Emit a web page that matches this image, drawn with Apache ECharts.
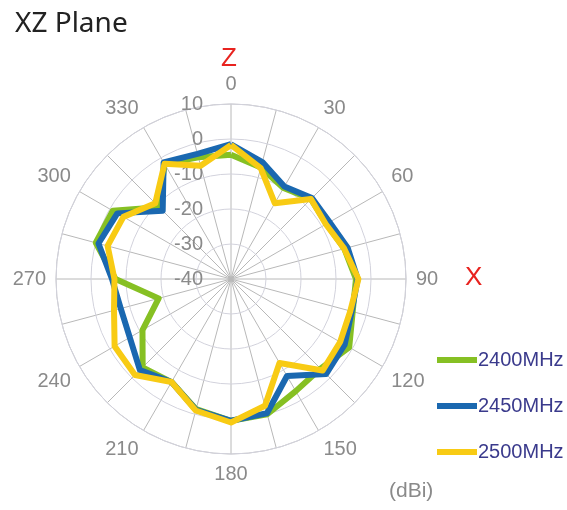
<!DOCTYPE html>
<html>
<head>
<meta charset="utf-8">
<title>XZ Plane</title>
<script src="https://cdn.jsdelivr.net/npm/echarts@6/dist/echarts.min.js"></script>
<style>
  html, body { margin: 0; padding: 0; background: #fff; }
  #chart { width: 567px; height: 510px; }
</style>
</head>
<body>
<div id="chart"></div>
<script>
// angles (deg), 15 deg steps
var angles = [0, 15, 30, 45, 60, 75, 90, 105, 120, 135, 150, 165,
              180, 195, 210, 225, 240, 255, 270, 285, 300, 315, 330, 345];

// gain in dBi
var g2400 = [-4.5, -7, -10, -7.7, -8.5, -6.5, -4.3, -4, -1, -3.8, -3, 0,
             0.5, -1.5, -6, -4.3, -10.8, -18.6, -7, 0, -1, -11, -2, -4];
var g2450 = [-1.5, -5.4, -9.5, -7.3, -7.5, -5.5, -3.8, -4.3, -2.5, -1.6, -8, -0.3,
             0.5, -1.3, -6, -3.2, -6.6, -7.4, -6, -0.8, -2.5, -12.4, -1.5, -3];
var g2500 = [-1.7, -7.2, -15, -7.7, -8.7, -6.5, -3.6, -4.7, -4, -3, -12.3, -2.5,
             1, -1.1, -6, -1.2, -1.6, -5.4, -6.7, -3.5, -4.5, -9.4, -2, -6.5];

var seriesNames = ['2400MHz', '2450MHz', '2500MHz'];
var seriesColors = ['#86c023', '#1a68b0', '#f8cb14'];

function toPolar(vals) {
    var out = [];
    for (var i = 0; i < vals.length; i++) {
        out.push([vals[i], angles[i]]);
    }
    out.push([vals[0], 360]);   // close the loop
    return out;
}

var chart = echarts.init(document.getElementById('chart'));

var allData = [g2400, g2450, g2500];
var series = [];
for (var i = 0; i < allData.length; i++) {
    series.push({
        name: seriesNames[i],
        type: 'line',
        coordinateSystem: 'polar',
        data: toPolar(allData[i]),
        symbol: 'none',
        smooth: false,
        lineStyle: { color: seriesColors[i], width: 6, join: 'round' },
        itemStyle: { color: seriesColors[i] },
        z: 3 + i
    });
}

var option = {
    animation: false,
    textStyle: { fontFamily: 'Liberation Sans' },
    title: {
        text: 'XZ Plane',
        left: 10,
        top: 5,
        textStyle: { fontFamily: 'Noto Sans', fontSize: 28, fontWeight: 'normal', color: '#222' }
    },
    legend: {
        orient: 'vertical',
        left: 432,
        top: 345,
        itemWidth: 40,
        itemHeight: 6,
        itemGap: 26,
        icon: 'rect',
        data: seriesNames,
        textStyle: { fontSize: 20, color: '#3a3a8c', padding: [0, 0, 0, -4] }
    },
    polar: {
        center: [231, 279],
        radius: 175
    },
    angleAxis: {
        type: 'value',
        min: 0,
        max: 360,
        interval: 15,
        startAngle: 90,
        clockwise: true,
        axisLine: { lineStyle: { color: '#c4c4c4', width: 1 } },
        axisTick: { show: false },
        axisLabel: {
            margin: 10,
            fontSize: 20,
            color: '#8a8a8a',
            formatter: function (v) {
                if (v % 30 !== 0 || v >= 360) return '';
                return String(v);
            }
        },
        splitLine: { lineStyle: { color: '#b8b8b8', width: 1 } }
    },
    radiusAxis: {
        min: -40,
        max: 10,
        interval: 10,
        axisLine: { show: false },
        axisTick: { show: false },
        axisLabel: { fontSize: 20, color: '#8a8a8a', margin: 28 },
        splitLine: { lineStyle: { color: '#d2d2dc', width: 1 } },
        z: 1
    },
    graphic: [
        { type: 'text', left: 221, top: 46, style: { text: 'Z', fontSize: 26, fill: '#e8231f', fontFamily: 'Liberation Sans' } },
        { type: 'text', left: 465, top: 265, style: { text: 'X', fontSize: 26, fill: '#e8231f', fontFamily: 'Liberation Sans' } },
        { type: 'text', left: 389, top: 481, style: { text: '(dBi)', fontSize: 21, fill: '#8a8a8a', fontFamily: 'Liberation Sans' } }
    ],
    series: series
};

chart.setOption(option);
</script>
</body>
</html>
